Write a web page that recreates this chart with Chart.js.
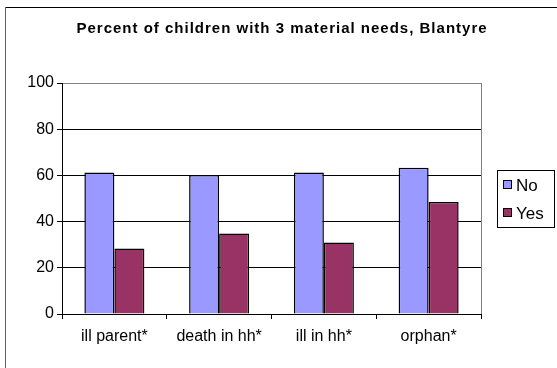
<!DOCTYPE html>
<html>
<head>
<meta charset="utf-8">
<style>
  html, body { margin: 0; padding: 0; background: #ffffff; }
  canvas { display: block; }
</style>
<script src="https://cdn.jsdelivr.net/npm/chart.js@4/dist/chart.umd.min.js"></script>
</head>
<body>
<canvas id="chart" width="557" height="368"></canvas>
<script>
// Chart data
const categories = ['ill parent*', 'death in hh*', 'ill in hh*', 'orphan*'];
const seriesNames = ['No', 'Yes'];
const noValues = [61.3, 60.2, 61.3, 63.3];
const yesValues = [28.4, 34.8, 30.9, 48.5];
const yTicks = [0, 20, 40, 60, 80, 100];
const titleText = 'Percent of children with 3 material needs, Blantyre';

const FONT = "'Liberation Sans', Arial, sans-serif";

// Outer frame, chart title, plot-area border and legend box
const decorations = {
  id: 'decorations',
  beforeDatasetsDraw(chart) {
    const { ctx, chartArea } = chart;
    ctx.save();
    ctx.strokeStyle = '#808080';
    ctx.lineWidth = 1;
    ctx.beginPath();
    ctx.moveTo(Math.round(chartArea.right) + 0.5, chartArea.top);
    ctx.lineTo(Math.round(chartArea.right) + 0.5, chartArea.bottom);
    ctx.stroke();
    ctx.restore();
  },
  afterDraw(chart) {
    const { ctx } = chart;
    ctx.save();
    // frame
    ctx.lineWidth = 1;
    ctx.strokeStyle = '#000000';
    ctx.beginPath();
    ctx.moveTo(5, 7.5);
    ctx.lineTo(557, 7.5);
    ctx.stroke();
    ctx.strokeStyle = '#606060';
    ctx.beginPath();
    ctx.moveTo(5.5, 7);
    ctx.lineTo(5.5, 368);
    ctx.stroke();

    // title
    ctx.fillStyle = '#000000';
    ctx.font = 'bold 15px ' + FONT;
    if ('letterSpacing' in ctx) ctx.letterSpacing = '1px';
    ctx.textAlign = 'center';
    ctx.textBaseline = 'middle';
    ctx.fillText(titleText, 282, 29);
    if ('letterSpacing' in ctx) ctx.letterSpacing = '0px';

    // legend
    ctx.strokeStyle = '#000000';
    ctx.strokeRect(497.5, 170.5, 57, 57);
    ctx.font = '17px ' + FONT;
    ctx.textAlign = 'left';
    const rows = [185, 213];
    chart.data.datasets.forEach((ds, i) => {
      const y = rows[i];
      ctx.fillStyle = ds.backgroundColor;
      ctx.fillRect(503.5, y - 4.5, 8, 8);
      ctx.strokeStyle = '#000000';
      ctx.strokeRect(503.5, y - 4.5, 8, 8);
      ctx.fillStyle = '#000000';
      ctx.fillText(ds.label, 516, y + 1);
    });
    ctx.restore();
  }
};

new Chart(document.getElementById('chart'), {
  type: 'bar',
  data: {
    labels: categories,
    datasets: [
      {
        label: seriesNames[0],
        data: noValues,
        backgroundColor: '#9999FF',
        borderColor: '#000000',
        borderWidth: 1.5,
        borderSkipped: 'bottom'
      },
      {
        label: seriesNames[1],
        data: yesValues,
        backgroundColor: '#993366',
        borderColor: '#000000',
        borderWidth: 1.5,
        borderSkipped: 'bottom'
      }
    ]
  },
  options: {
    responsive: false,
    animation: false,
    devicePixelRatio: 1,
    layout: { padding: { top: 83, right: 76, bottom: 0, left: 0 } },
    datasets: {
      bar: { barPercentage: 1.0, categoryPercentage: 0.573 }
    },
    plugins: {
      legend: { display: false },
      title: { display: false },
      tooltip: { enabled: false }
    },
    scales: {
      x: {
        offset: true,
        grid: {
          offset: true,
          drawOnChartArea: false,
          drawTicks: true,
          tickLength: 5,
          color: '#000000'
        },
        border: { display: true, color: '#000000', width: 1 },
        ticks: {
          color: '#000000',
          font: { family: FONT, size: 16 },
          padding: 8,
          maxRotation: 0
        },
        afterFit(scale) { scale.height = 54; }
      },
      y: {
        min: 0,
        max: 100,
        afterBuildTicks(scale) {
          scale.ticks = yTicks.map(v => ({ value: v }));
        },
        grid: {
          color: ctx => (ctx.tick && ctx.tick.value === 100 ? '#808080' : '#000000'),
          tickColor: '#000000',
          tickLength: 5,
          drawTicks: true
        },
        border: { display: true, color: '#000000', width: 1 },
        ticks: {
          color: '#000000',
          font: { family: FONT, size: 16 },
          padding: 3
        },
        afterFit(scale) { scale.width = 62; }
      }
    }
  },
  plugins: [decorations]
});
</script>
</body>
</html>
